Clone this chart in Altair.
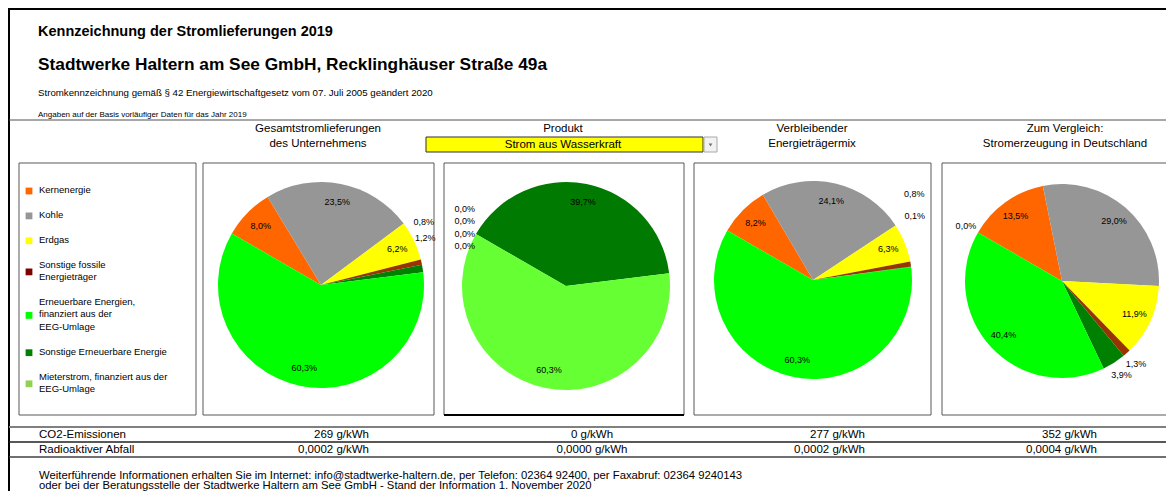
import math
import altair as alt
import pandas as pd

# ---------------- data ----------------
pie_categories = ["Kernenergie", "Kohle", "Erdgas", "Sonstige fossile Energieträger",
                  "Sonstige Erneuerbare Energie",
                  "Erneuerbare Energien, finanziert aus der EEG-Umlage",
                  "Mieterstrom, finanziert aus der EEG-Umlage"]
gesamt = [8.0, 23.5, 6.2, 0.8, 1.2, 60.3, None]
produkt = [0.0, 0.0, 0.0, 0.0, 39.7, 60.3, None]
verbleibend = [8.2, 24.1, 6.3, 0.8, 0.1, 60.3, None]
deutschland = [13.5, 29.0, 11.9, 1.3, 3.9, 40.4, 0.0]

legend_labels = ["Kernenergie", "Kohle", "Erdgas", "Sonstige fossile\nEnergieträger",
                 "Erneuerbare Energien,\nfinanziert aus der\nEEG-Umlage",
                 "Sonstige Erneuerbare Energie",
                 "Mieterstrom, finanziert aus der\nEEG-Umlage"]

column_headers = [["Gesamtstromlieferungen", "des Unternehmens"],
                  ["Produkt"],
                  ["Verbleibender", "Energieträgermix"],
                  ["Zum Vergleich:", "Stromerzeugung in Deutschland"]]
product_name = "Strom aus Wasserkraft"
co2 = [269, 0, 277, 352]
radioaktiv = [0.0002, 0.0000, 0.0002, 0.0004]

title1 = "Kennzeichnung der Stromlieferungen 2019"
title2 = "Stadtwerke Haltern am See GmbH, Recklinghäuser Straße 49a"
sub1 = "Stromkennzeichnung gemäß § 42 Energiewirtschaftgesetz vom 07. Juli 2005 geändert 2020"
sub2 = "Angaben auf der Basis vorläufiger Daten für das Jahr 2019"
footer1 = ("Weiterführende Informationen erhalten Sie im Internet: info@stadtwerke-haltern.de, "
           "per Telefon: 02364 92400, per Faxabruf: 02364 9240143")
footer2 = ("oder bei der Beratungsstelle der Stadtwerke Haltern am See GmbH - "
           "Stand der Information 1. November 2020")

# ---------------- styles ----------------
FONT = "Liberation Sans"
OFF = 8
pie_colors = ["#FF6600", "#969696", "#FFFF00", "#993300", "#008000", "#00FF00", "#92D050"]
pie_colors_product = ["#FF6600", "#969696", "#FFFF00", "#993300", "#007A00", "#66FF33", "#92D050"]
legend_colors = ["#FF6600", "#969696", "#FFFF00", "#800000", "#00FF00", "#008000", "#92D050"]
START = math.radians(300)


def P(v):
    return v - OFF


def text(s, x, y, size=11.5, weight="normal", align="left", color="black"):
    return alt.Chart().mark_text(align=align, baseline="middle", fontSize=size,
                                 fontWeight=weight, font=FONT, color=color).encode(
        x=alt.value(P(x)), y=alt.value(P(y)), text=alt.value(s))


def hline(x1, x2, y, color="#000000", w=1.0):
    return alt.Chart().mark_rule(color=color, strokeWidth=w).encode(
        x=alt.value(P(x1)), x2=alt.value(P(x2)), y=alt.value(P(y)))


def vline(x, y1, y2, color="#000000", w=1.0):
    return alt.Chart().mark_rule(color=color, strokeWidth=w).encode(
        x=alt.value(P(x)), y=alt.value(P(y1)), y2=alt.value(P(y2)))


def box(x1, y1, x2, y2, fill="white", stroke="#595959", w=1.0):
    return alt.Chart().mark_rect(fill=fill, stroke=stroke, strokeWidth=w).encode(
        x=alt.value(P(x1)), x2=alt.value(P(x2)), y=alt.value(P(y1)), y2=alt.value(P(y2)))


def pie(values, cx, cy, r, colors, lift, step, center_stack, out_align, out_gap):
    rows = [(c, v, i) for i, (c, v) in enumerate(zip(pie_categories, values)) if v is not None]
    df = pd.DataFrame(rows, columns=["cat", "value", "ord"])
    total = float(df["value"].sum())
    tscale = alt.Scale(domain=[0, total], range=[START, START + 2 * math.pi])
    arc = alt.Chart(df).mark_arc(outerRadius=r).encode(
        theta=alt.Theta("value:Q", stack=True, scale=tscale),
        order=alt.Order("ord:Q"),
        x=alt.value(P(cx)), y=alt.value(P(cy)),
        color=alt.Color("cat:N", scale=alt.Scale(domain=pie_categories, range=colors),
                        legend=None))
    if center_stack:
        off = "(datum.idx - 1 - (datum.n - 1) / 2) * %g" % step
    else:
        off = "%g + (datum.idx - 1) * %g" % (lift, step)
    lab = alt.Chart(df).transform_window(
        cum="sum(value)", sort=[alt.SortField("ord", order="ascending")], frame=[None, 0]
    ).transform_calculate(
        mid="datum.cum - datum.value / 2",
        lab="replace(format(datum.value, '.1f'), '.', ',') + '%'",
        small="datum.value < 5 ? 1 : 0",
    ).transform_window(
        idx="row_number()", groupby=["small"], sort=[alt.SortField("ord", order="ascending")]
    ).transform_joinaggregate(
        n="count()", groupby=["small"]
    ).transform_calculate(
        tin="datum.small ? '' : datum.lab",
        tout="datum.small ? datum.lab : ''",
        off="datum.small ? " + off + " : 0",
    ).encode(
        theta=alt.Theta("mid:Q", stack=None, scale=tscale),
        x=alt.value(P(cx)), y=alt.value(P(cy)),
    )
    tin = lab.mark_text(radius=0.82 * r, fontSize=9, font=FONT, color="black").encode(
        text="tin:N")
    tout = lab.mark_text(radius=r + out_gap, fontSize=9, font=FONT, color="black",
                         align=out_align).encode(
        text="tout:N", yOffset=alt.YOffset("off:Q", scale=None))
    return alt.layer(arc, tin, tout)


layers = []

# frame lines
layers.append(hline(8, 1174, 9, "#000000", 2))
layers.append(vline(9, 9, 499, "#000000", 2))
layers.append(hline(9, 1174, 120, "#505050", 1))

# titles
layers.append(text(title1, 38, 32, 14.5, "bold"))
layers.append(text(title2, 38, 65, 17.3, "bold"))
layers.append(text(sub1, 38, 93, 9.7))
layers.append(text(sub2, 38, 115, 8))

# column headers
header_x = [318, 563, 812, 1065]
for hx, lines in zip(header_x, column_headers):
    for k, line in enumerate(lines):
        layers.append(text(line, hx, 129 + 15 * k, 11.5, align="center"))

# product selector
layers.append(box(426, 137, 703, 152, fill="#FFFF00", stroke="#303030", w=1))
layers.append(text(product_name, 563, 144.5, 11.5, align="center"))
layers.append(box(704, 137, 717, 152, fill="#F2F2F2", stroke="#A8A8A8", w=1))
layers.append(alt.Chart().mark_point(shape="triangle-down", size=14, filled=True,
                                     color="#707070", opacity=1).encode(
    x=alt.value(P(710.5)), y=alt.value(P(145))))

# panels
layers.append(box(19, 163, 196, 415))
panel_x = [(203, 434), (444, 684), (694, 931), (942, 1172)]
for x1, x2 in panel_x:
    layers.append(box(x1, 163, x2, 415))
layers.append(hline(444, 684, 415, "#000000", 2))

# legend
y = 190
for lbl, col in zip(legend_labels, legend_colors):
    nlines = lbl.count("\n") + 1
    layers.append(alt.Chart().mark_square(size=46, filled=True, color=col, opacity=1).encode(
        x=alt.value(P(29)), y=alt.value(P(y + (nlines - 1) * 12.4 / 2 + 1))))
    layers.append(alt.Chart().mark_text(align="left", baseline="middle", fontSize=9.5, font=FONT,
                                        lineBreak="\n", lineHeight=12.4, color="black").encode(
        x=alt.value(P(39)), y=alt.value(P(y)), text=alt.value(lbl)))
    y += nlines * 12.4 + 12.5

# pies
layers.append(pie(gesamt, 321, 285, 103, pie_colors, -37, 9, False, "right", 13))
layers.append(pie(produkt, 566, 286, 104, pie_colors_product, 0, 12.5, True, "center", 13))
layers.append(pie(verbleibend, 813, 280, 99, pie_colors, -68, 19, False, "right", 14))
layers.append(pie(deutschland, 1062, 281, 97, pie_colors, 0, 0, False, "center", 14))

# table
layers.append(hline(9, 1174, 427, "#808080", 2))
layers.append(hline(9, 1174, 442, "#202020", 1.3))
layers.append(hline(9, 1174, 457, "#404040", 1.6))
layers.append(text("CO2-Emissionen", 39, 435, 11.5))
layers.append(text("Radioaktiver Abfall", 39, 449.5, 11.5))
value_pos = [(369, "right"), (592, "center"), (865, "right"), (1097, "right")]
for (vx, al), c, rv in zip(value_pos, co2, radioaktiv):
    layers.append(text(f"{c} g/kWh", vx, 435, 11.5, align=al))
    layers.append(text(f"{rv:.4f}".replace(".", ",") + " g/kWh", vx, 449.5, 11.5, align=al))

# footer
layers.append(text(footer1, 39, 475.5, 11.3))
layers.append(text(footer2, 39, 486, 11.3))

chart = alt.layer(*layers, data=pd.DataFrame({"d": [0]})).properties(
    width=1158, height=483, autosize="none", padding=0
).resolve_scale(theta="independent", color="independent").configure_view(strokeWidth=0)

chart.save("out.html", embed_options={"renderer": "svg", "actions": False})
